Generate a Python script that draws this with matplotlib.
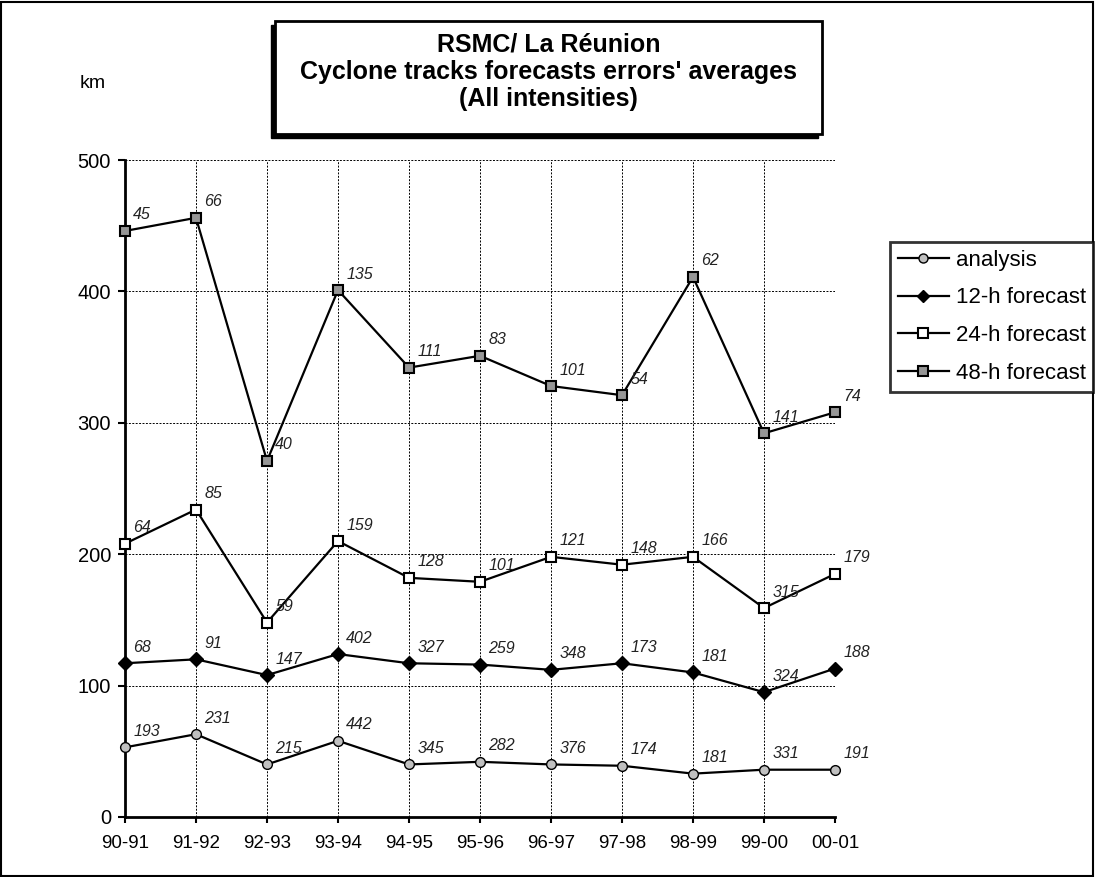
import matplotlib
matplotlib.use("Agg")
import matplotlib.pyplot as plt
from matplotlib.patches import Rectangle

plt.rcParams['font.family'] = ['Liberation Sans', 'DejaVu Sans']

seasons = ["90-91", "91-92", "92-93", "93-94", "94-95", "95-96",
           "96-97", "97-98", "98-99", "99-00", "00-01"]

analysis = [53, 63, 40, 58, 40, 42, 40, 39, 33, 36, 36]
fc12 = [117, 120, 108, 124, 117, 116, 112, 117, 110, 95, 113]
fc24 = [208, 234, 148, 210, 182, 179, 198, 192, 198, 159, 185]
fc48 = [446, 456, 271, 401, 342, 351, 328, 321, 411, 292, 308]

n_analysis = [193, 231, 215, 442, 345, 282, 376, 174, 181, 331, 191]
n_fc12 = [68, 91, 147, 402, 327, 259, 348, 173, 181, 324, 188]
n_fc24 = [64, 85, 59, 159, 128, 101, 121, 148, 166, 315, 179]
n_fc48 = [45, 66, 40, 135, 111, 83, 101, 54, 62, 141, 74]

W, H = 1095, 877
fig = plt.figure(figsize=(W / 100, H / 100), dpi=100)

# figure border
fig.patches.append(Rectangle((1 / W, 1 / H), 1 - 3 / W, 1 - 3 / H, transform=fig.transFigure,
                             fill=False, edgecolor='black', linewidth=1.5, zorder=0))

ax = fig.add_axes([125 / W, 1 - 817 / H, 710 / W, 657 / H])
x = list(range(len(seasons)))

styles = [
    (analysis, n_analysis, dict(marker='o', markersize=7, markerfacecolor='#c0c0c0', markeredgecolor='black', markeredgewidth=1.0), 'analysis'),
    (fc12, n_fc12, dict(marker='D', markersize=7, markerfacecolor='black', markeredgecolor='black'), '12-h forecast'),
    (fc24, n_fc24, dict(marker='s', markersize=7.5, markerfacecolor='white', markeredgecolor='black', markeredgewidth=1.5), '24-h forecast'),
    (fc48, n_fc48, dict(marker='s', markersize=7.5, markerfacecolor='#969696', markeredgecolor='black', markeredgewidth=1.5), '48-h forecast'),
]

handles = []
for vals, counts, st, lab in styles:
    h, = ax.plot(x, vals, color='black', linewidth=1.6, label=lab, clip_on=False, zorder=3, **st)
    handles.append(h)
    for xi, v, c in zip(x, vals, counts):
        ax.annotate(str(c), (xi, v), xytext=(6, 11.5), textcoords='offset points',
                    ha='left', va='center', fontsize=11.5, style='italic', color='#222222', zorder=4)

ax.set_xlim(0, 10)
ax.set_ylim(0, 500)
ax.set_xticks(x)
ax.set_xticklabels(seasons, fontsize=13.5)
ax.set_yticks([0, 100, 200, 300, 400, 500])
ax.tick_params(axis='y', labelsize=14.5, length=5, width=1.5, direction='out', pad=5)
ax.tick_params(axis='x', length=4, width=1.5, direction='out', pad=9)
ax.grid(True, color='black', linestyle=(0, (2, 1.5)), linewidth=0.7)
ax.set_axisbelow(True)
for s in ['top', 'right']:
    ax.spines[s].set_visible(False)
for s in ['left', 'bottom']:
    ax.spines[s].set_linewidth(2)

fig.text(93 / W, 1 - 84 / H, 'km', ha='center', va='center', fontsize=14)

# title box with shadow
bx0, by0, bx1, by1 = 275, 21, 822, 134
fig.patches.append(Rectangle(((bx0 - 4) / W, 1 - (by1 + 4) / H), (bx1 - bx0) / W, (by1 - by0) / H,
                             transform=fig.transFigure, facecolor='black', edgecolor='black', zorder=5))
fig.patches.append(Rectangle((bx0 / W, 1 - by1 / H), (bx1 - bx0) / W, (by1 - by0) / H,
                             transform=fig.transFigure, facecolor='white', edgecolor='black',
                             linewidth=2, zorder=6))
title_lines = ["RSMC/ La Réunion", "Cyclone tracks forecasts errors' averages", "(All intensities)"]
for i, t in enumerate(title_lines):
    fig.text((bx0 + bx1) / 2 / W, 1 - (45 + 27 * i) / H, t, ha='center', va='center',
             fontsize=18, fontweight='bold', zorder=7)

leg = fig.legend(handles=handles, loc='upper left', bbox_to_anchor=(890 / W, 1 - 242 / H),
                 frameon=True, fancybox=False, fontsize=16, handlelength=2.3,
                 handletextpad=0.3, borderpad=0.35, labelspacing=0.75, borderaxespad=0)
leg.get_frame().set_edgecolor('black')
leg.get_frame().set_linewidth(2)
for lh in leg.legend_handles:
    lh.set_markersize(6.5)

fig.savefig('out.png', dpi=100)
